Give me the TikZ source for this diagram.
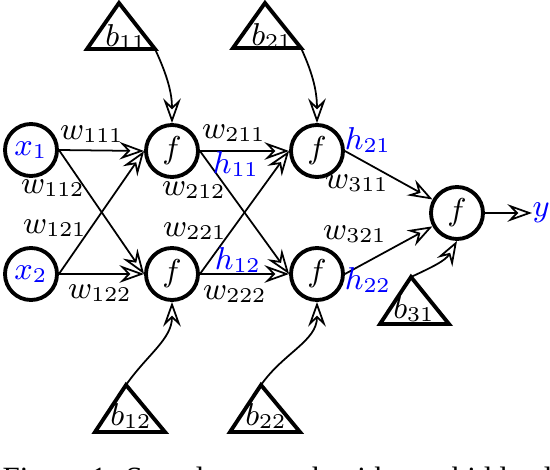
\documentclass[tikz,border=0pt]{standalone}
\usepackage{fontspec}
\newfontfamily\capfont{Liberation Serif}
\usetikzlibrary{arrows.meta}
\definecolor{netBlue}{HTML}{0000FF}

\begin{document}
\begin{tikzpicture}[font=\fontsize{8.7}{10}\selectfont,
    neuron/.style={circle,draw,line width=1.1pt,minimum size=5.2mm,inner sep=0pt},
    wire/.style={line width=0.5pt,-{Stealth[open,length=7pt,width=5pt,inset=2.4pt]}},
    tri/.style={draw,line width=1.1pt,line join=miter},
    lab/.style={inner sep=0pt},
    sig/.style={inner sep=0pt,text=netBlue}]

  \useasboundingbox (0,0) rectangle (5.5,4.7);
  \clip (0,0) rectangle (5.5,4.7);

  % inputs and neurons
  \node[neuron,text=netBlue] (x1) at (0.31,3.20) {$x_1$};
  \node[neuron,text=netBlue] (x2) at (0.31,1.96) {$x_2$};
  \node[neuron] (f11) at (1.72,3.19) {$f$};
  \node[neuron] (f12) at (1.72,1.96) {$f$};
  \node[neuron] (f21) at (3.17,3.19) {$f$};
  \node[neuron] (f22) at (3.17,1.96) {$f$};
  \node[neuron] (f31) at (4.57,2.57) {$f$};
  \node[sig,anchor=west] (y) at (5.32,2.57) {$y$};

  % bias triangles
  \draw[tri] (0.87,4.21) coordinate (b11l) -- (1.19,4.67) coordinate (b11t)
             -- (1.55,4.21) coordinate (b11r) -- cycle;
  \draw[tri] (2.33,4.22) coordinate (b21l) -- (2.65,4.67) coordinate (b21t)
             -- (3.01,4.22) coordinate (b21r) -- cycle;
  \draw[tri] (0.95,0.38) coordinate (b12l) -- (1.26,0.85) coordinate (b12t)
             -- (1.65,0.38) coordinate (b12r) -- cycle;
  \draw[tri] (2.30,0.38) coordinate (b22l) -- (2.61,0.85) coordinate (b22t)
             -- (3.00,0.38) coordinate (b22r) -- cycle;
  \draw[tri] (3.80,1.46) coordinate (b31l) -- (4.11,1.93) coordinate (b31t)
             -- (4.49,1.46) coordinate (b31r) -- cycle;
  \node[lab] (b11) at (1.26,4.33) {$b_{11}$};
  \node[lab] (b21) at (2.72,4.34) {$b_{21}$};
  \node[lab] (b12) at (1.31,0.54) {$b_{12}$};
  \node[lab] (b22) at (2.66,0.54) {$b_{22}$};
  \node[lab] (b31) at (4.14,1.61) {$b_{31}$};

  % weights
  \draw[wire] (x1.east) -- (f11.west);
  \draw[wire] (x1.east) -- (f12.west);
  \draw[wire] (x2.east) -- (f11.west);
  \draw[wire] (x2.east) -- (f12.west);
  \draw[wire] (f11.east) -- (f21.west);
  \draw[wire] (f11.east) -- (f22.west);
  \draw[wire] (f12.east) -- (f21.west);
  \draw[wire] (f12.east) -- (f22.west);
  \draw[wire] (f21.east) -- (f31);
  \draw[wire] (f22.east) -- (f31);
  \draw[wire] (f31.east) -- (y.west);

  \draw[wire] (b11r) to[out=-65,in=90] (f11.north);
  \draw[wire] (b21r) to[out=-65,in=90] (f21.north);
  \draw[wire] (b12t) to[out=55,in=-90] (f12.south);
  \draw[wire] (b22t) to[out=55,in=-90] (f22.south);
  \draw[wire] (b31t) to[out=25,in=-120] (f31.south);

  \node[lab] (w111) at (0.92,3.36) {$w_{111}$};
  \node[lab] (w112) at (0.53,2.82) {$w_{112}$};
  \node[lab] (w121) at (0.55,2.42) {$w_{121}$};
  \node[lab] (w122) at (1.00,1.77) {$w_{122}$};
  \node[lab] (w211) at (2.34,3.37) {$w_{211}$};
  \node[lab] (w212) at (1.94,2.80) {$w_{212}$};
  \node[lab] (w221) at (1.95,2.39) {$w_{221}$};
  \node[lab] (w222) at (2.35,1.76) {$w_{222}$};
  \node[lab] (w311) at (3.57,2.87) {$w_{311}$};
  \node[lab] (w321) at (3.55,2.36) {$w_{321}$};

  \node[sig] (h11) at (2.36,3.06) {$h_{11}$};
  \node[sig] (h12) at (2.38,2.10) {$h_{12}$};
  \node[sig] (h21) at (3.68,3.30) {$h_{21}$};
  \node[sig] (h22) at (3.68,1.90) {$h_{22}$};

  % caption, cut by the frame
  \node[lab,anchor=base west,font=\capfont\fontsize{8.8}{10}\selectfont] (cap) at (0.02,-0.19)
    {Figure 1: Sample network with two hidden layers};
\end{tikzpicture}
\end{document}
